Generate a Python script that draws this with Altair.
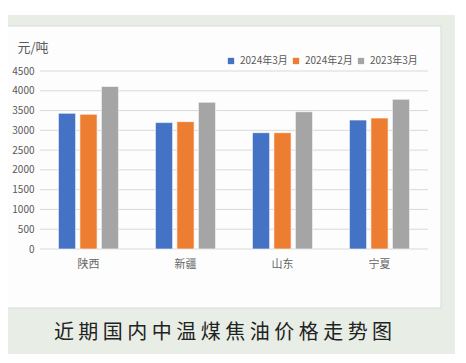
import altair as alt
import pandas as pd

regions = ["陕西", "新疆", "山东", "宁夏"]
series = ["2024年3月", "2024年2月", "2023年3月"]
mar_2024 = [3430, 3195, 2940, 3260]
feb_2024 = [3405, 3220, 2940, 3310]
mar_2023 = [4110, 3710, 3470, 3785]
colors = ["#4472C4", "#ED7D31", "#A5A5A5"]
y_ticks = [0, 500, 1000, 1500, 2000, 2500, 3000, 3500, 4000, 4500]
title_text = "近期国内中温煤焦油价格走势图"
unit_text = "元/吨"

FONT = "Noto Sans CJK SC"

rows = []
for s, vals in zip(series, [mar_2024, feb_2024, mar_2023]):
    for r, v in zip(regions, vals):
        rows.append({"region": r, "series": s, "value": v})
df = pd.DataFrame(rows)

one = pd.DataFrame({"a": [0]})
grid_df = pd.DataFrame({"value": y_ticks})

yscale = alt.Scale(domain=[0, 4500], nice=False)
y_axis = alt.Axis(values=y_ticks, format="d", ticks=False, domain=False, grid=False,
                  labelFontSize=10, labelColor="#595959", labelPadding=6,
                  labelFont=FONT, zindex=1,
                  title=unit_text, titleAngle=0, titleAlign="left",
                  titleBaseline="middle", titleX=-23, titleY=-24,
                  titleFontSize=13, titleFontWeight="normal",
                  titleColor="#595959", titleFont=FONT)

bg = alt.Chart(one).mark_rect(color="#E8EEE6").encode(
    x=alt.value(-32), x2=alt.value(415), y=alt.value(-56), y2=alt.value(283)
)
panel = alt.Chart(one).mark_rect(fill="#FDFDFD", stroke="#D9D9D9", strokeWidth=1).encode(
    x=alt.value(-36), x2=alt.value(401), y=alt.value(-45), y2=alt.value(237)
)

grid = alt.Chart(grid_df).mark_rule(color="#D9D9D9", strokeWidth=1).encode(
    y=alt.Y("value:Q", scale=yscale, axis=y_axis),
    x=alt.value(0), x2=alt.value(388),
)

bars = alt.Chart(df).mark_bar(stroke="white", strokeWidth=0.6).encode(
    x=alt.X("region:N", sort=regions,
            scale=alt.Scale(paddingInner=0.38, paddingOuter=0.19),
            axis=alt.Axis(title=None, labelAngle=0, ticks=False, domain=False,
                          labelFontSize=11, labelColor="#666666", labelPadding=9,
                          labelFont=FONT, zindex=1)),
    xOffset=alt.XOffset("series:N", sort=series,
                        scale=alt.Scale(paddingInner=0.2, paddingOuter=0)),
    y=alt.Y("value:Q", scale=yscale, axis=y_axis),
    color=alt.Color("series:N", sort=series,
                    scale=alt.Scale(domain=series, range=colors),
                    legend=alt.Legend(title=None, orient="none", direction="horizontal",
                                      legendX=186, legendY=-15, padding=0,
                                      symbolType="square", symbolSize=40,
                                      symbolStrokeWidth=0, labelFontSize=10,
                                      labelColor="#595959", labelFont=FONT,
                                      labelOffset=4, columnPadding=3, zindex=1)),
)

title = alt.Chart(one).mark_text(
    text=" ".join(title_text), font=FONT, fontSize=20, color="#222222",
    align="center", baseline="middle"
).encode(x=alt.value(183), y=alt.value(262))

chart = alt.layer(bg, panel, grid, bars, title).properties(
    width=388, height=178,
    autosize=alt.AutoSizeParams(type="none"),
    padding={"left": 32, "top": 63, "right": 27, "bottom": 105},
    background="white",
).configure_view(stroke=None)

chart.save("out.html", embed_options={"renderer": "svg", "actions": False})
